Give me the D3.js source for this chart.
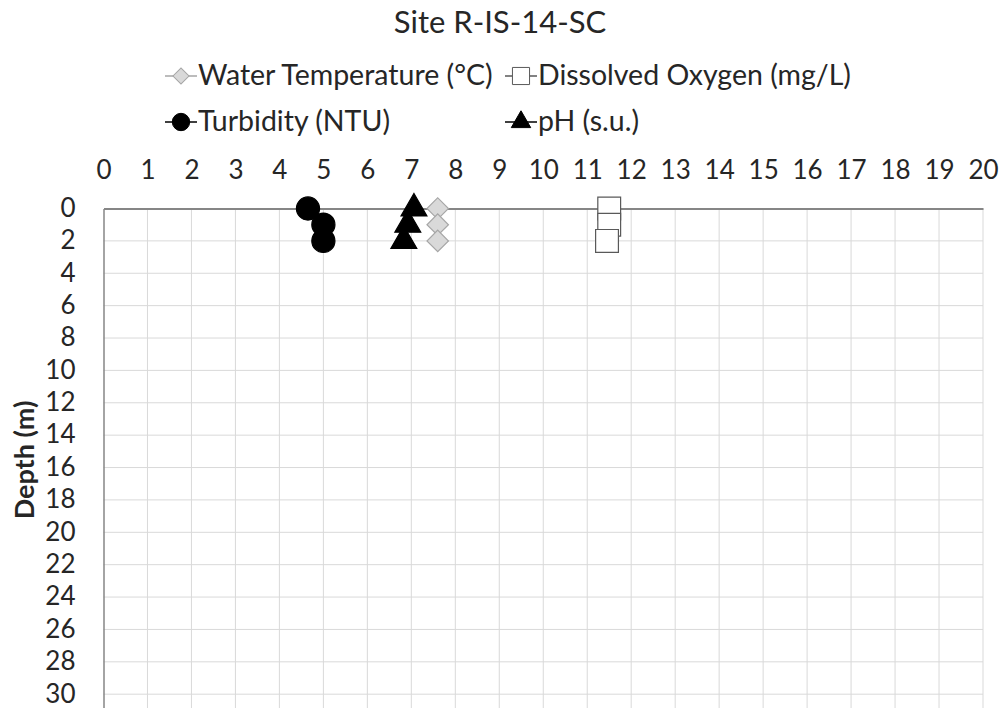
<!DOCTYPE html>
<html>
<head>
<meta charset="utf-8">
<script src="https://cdn.jsdelivr.net/npm/d3@7"></script>
<style>
  body { margin: 0; background: #ffffff; }
  text { font-family: Lato, "Open Sans", sans-serif; fill: #262626; }
</style>
</head>
<body>
<div id="chart"></div>
<script>
// Profile values
var depths = [0, 1, 2];
var waterTemp = [7.6, 7.6, 7.6];
var dissolvedOxygen = [11.5, 11.5, 11.45];
var turbidity = [4.65, 5.0, 5.0];
var ph = [7.06, 6.92, 6.83];
var xTicks = d3.range(0, 21, 1);
var yTicks = d3.range(0, 31, 2);
var seriesNames = ['Water Temperature (\u00B0C)', 'Dissolved Oxygen (mg/L)', 'Turbidity (NTU)', 'pH (s.u.)'];

var outerWidth = 1001;
var outerHeight = 708;
var plot = {left: 103.5, right: 983, top: 208.5};

var svg = d3.select('#chart').append('svg')
  .attr('width', outerWidth)
  .attr('height', outerHeight);

// Scales, depth axis runs past the bottom edge like the original crop
var x = d3.scaleLinear().domain([0, 20]).range([plot.left, plot.right]);
var y = d3.scaleLinear().domain([0, 32]).range([plot.top, plot.top + 32 * 16.19]);

// Style per series
var styles = [
  {name: seriesNames[0], values: waterTemp, shape: 'diamond', fill: '#d9d9d9', stroke: '#a6a6a6', line: '#a6a6a6'},
  {name: seriesNames[1], values: dissolvedOxygen, shape: 'square', fill: '#ffffff', stroke: '#595959', line: '#595959'},
  {name: seriesNames[2], values: turbidity, shape: 'circle', fill: '#000000', stroke: '#000000', line: '#000000'},
  {name: seriesNames[3], values: ph, shape: 'triangle', fill: '#000000', stroke: '#000000', line: '#000000'}
];

function markerPath(shape, scale) {
  var k = scale || 1;
  if (shape === 'diamond') return d3.symbol(d3.symbolSquare, 230 * k * k)();
  if (shape === 'square') return d3.symbol(d3.symbolSquare, 520 * k * k)();
  if (shape === 'circle') return d3.symbol(d3.symbolCircle, 420 * k * k)();
  return d3.symbol(d3.symbolTriangle, 290 * k * k)();
}
function markerRotate(shape) {
  return shape === 'diamond' ? ' rotate(45)' : '';
}

// Gridlines
var g = svg.append('g');
g.selectAll('.vgrid')
  .data(xTicks.slice(1))
  .enter().append('line')
  .attr('x1', function(d) { return x(d); })
  .attr('x2', function(d) { return x(d); })
  .attr('y1', plot.top)
  .attr('y2', outerHeight)
  .style('stroke', '#d9d9d9')
  .style('stroke-width', 1);

g.selectAll('.hgrid')
  .data(yTicks.slice(1).concat([32]))
  .enter().append('line')
  .attr('x1', plot.left)
  .attr('x2', plot.right)
  .attr('y1', function(d) { return y(d); })
  .attr('y2', function(d) { return y(d); })
  .style('stroke', '#d9d9d9')
  .style('stroke-width', 1);

// Top axis (values) and left axis (depth)
var xAxis = svg.append('g')
  .attr('transform', 'translate(0,' + plot.top + ')')
  .call(d3.axisTop(x).tickValues(xTicks).tickSize(0).tickPadding(30));
xAxis.select('.domain').style('stroke', '#868686').style('stroke-width', 2);
xAxis.selectAll('text')
  .style('font-size', '26px')
  .style('fill', '#262626');

var yAxis = svg.append('g')
  .attr('transform', 'translate(' + plot.left + ',0)')
  .call(d3.axisLeft(y).tickValues(yTicks).tickSize(0).tickPadding(28));
yAxis.select('.domain').style('stroke', '#868686').style('stroke-width', 1.5);
yAxis.selectAll('text')
  .style('font-size', '26px')
  .style('fill', '#262626')
  .attr('dy', '0.3em');

// Depth title
svg.append('text')
  .attr('transform', 'translate(34,460) rotate(-90)')
  .attr('text-anchor', 'middle')
  .style('font-size', '27px')
  .style('font-weight', 'bold')
  .text('Depth (m)');

// Chart title
svg.append('text')
  .attr('x', 500)
  .attr('y', 33)
  .attr('text-anchor', 'middle')
  .style('font-size', '31px')
  .text('Site R-IS-14-SC');

// Series lines and markers
var line = d3.line()
  .x(function(d) { return x(d.v); })
  .y(function(d) { return y(d.depth); });

var series = svg.selectAll('.series')
  .data(styles)
  .enter().append('g')
  .attr('class', 'series');

series.append('path')
  .attr('d', function(s) {
    return line(s.values.map(function(v, i) { return {v: v, depth: depths[i]}; }));
  })
  .style('fill', 'none')
  .style('stroke', function(s) { return s.line; })
  .style('stroke-width', 1.5);

series.each(function(s) {
  d3.select(this).selectAll('.pt')
    .data(s.values.map(function(v, i) { return {v: v, depth: depths[i]}; }))
    .enter().append('path')
    .attr('d', markerPath(s.shape))
    .attr('transform', function(d) {
      return 'translate(' + x(d.v) + ',' + y(d.depth) + ')' + markerRotate(s.shape);
    })
    .style('fill', s.fill)
    .style('stroke', s.stroke)
    .style('stroke-width', 1.2);
});

// Legend, two rows of two entries
var legendPos = [
  {x: 165, y: 76}, {x: 505, y: 76},
  {x: 165, y: 122}, {x: 505, y: 122}
];
var legend = svg.selectAll('.legend')
  .data(styles)
  .enter().append('g')
  .attr('class', 'legend')
  .attr('transform', function(d, i) { return 'translate(' + legendPos[i].x + ',' + legendPos[i].y + ')'; });

legend.append('line')
  .attr('x1', 0).attr('x2', 32)
  .attr('y1', 0).attr('y2', 0)
  .style('stroke', function(d) { return d.line; })
  .style('stroke-width', 1.5);

legend.append('path')
  .attr('d', function(d) { return markerPath(d.shape, 0.75); })
  .attr('transform', function(d) { return 'translate(16,0)' + markerRotate(d.shape); })
  .style('fill', function(d) { return d.fill; })
  .style('stroke', function(d) { return d.stroke; })
  .style('stroke-width', 1);

legend.append('text')
  .attr('x', 33)
  .attr('y', 9)
  .style('font-size', '28.5px')
  .text(function(d) { return d.name; });
</script>
</body>
</html>
